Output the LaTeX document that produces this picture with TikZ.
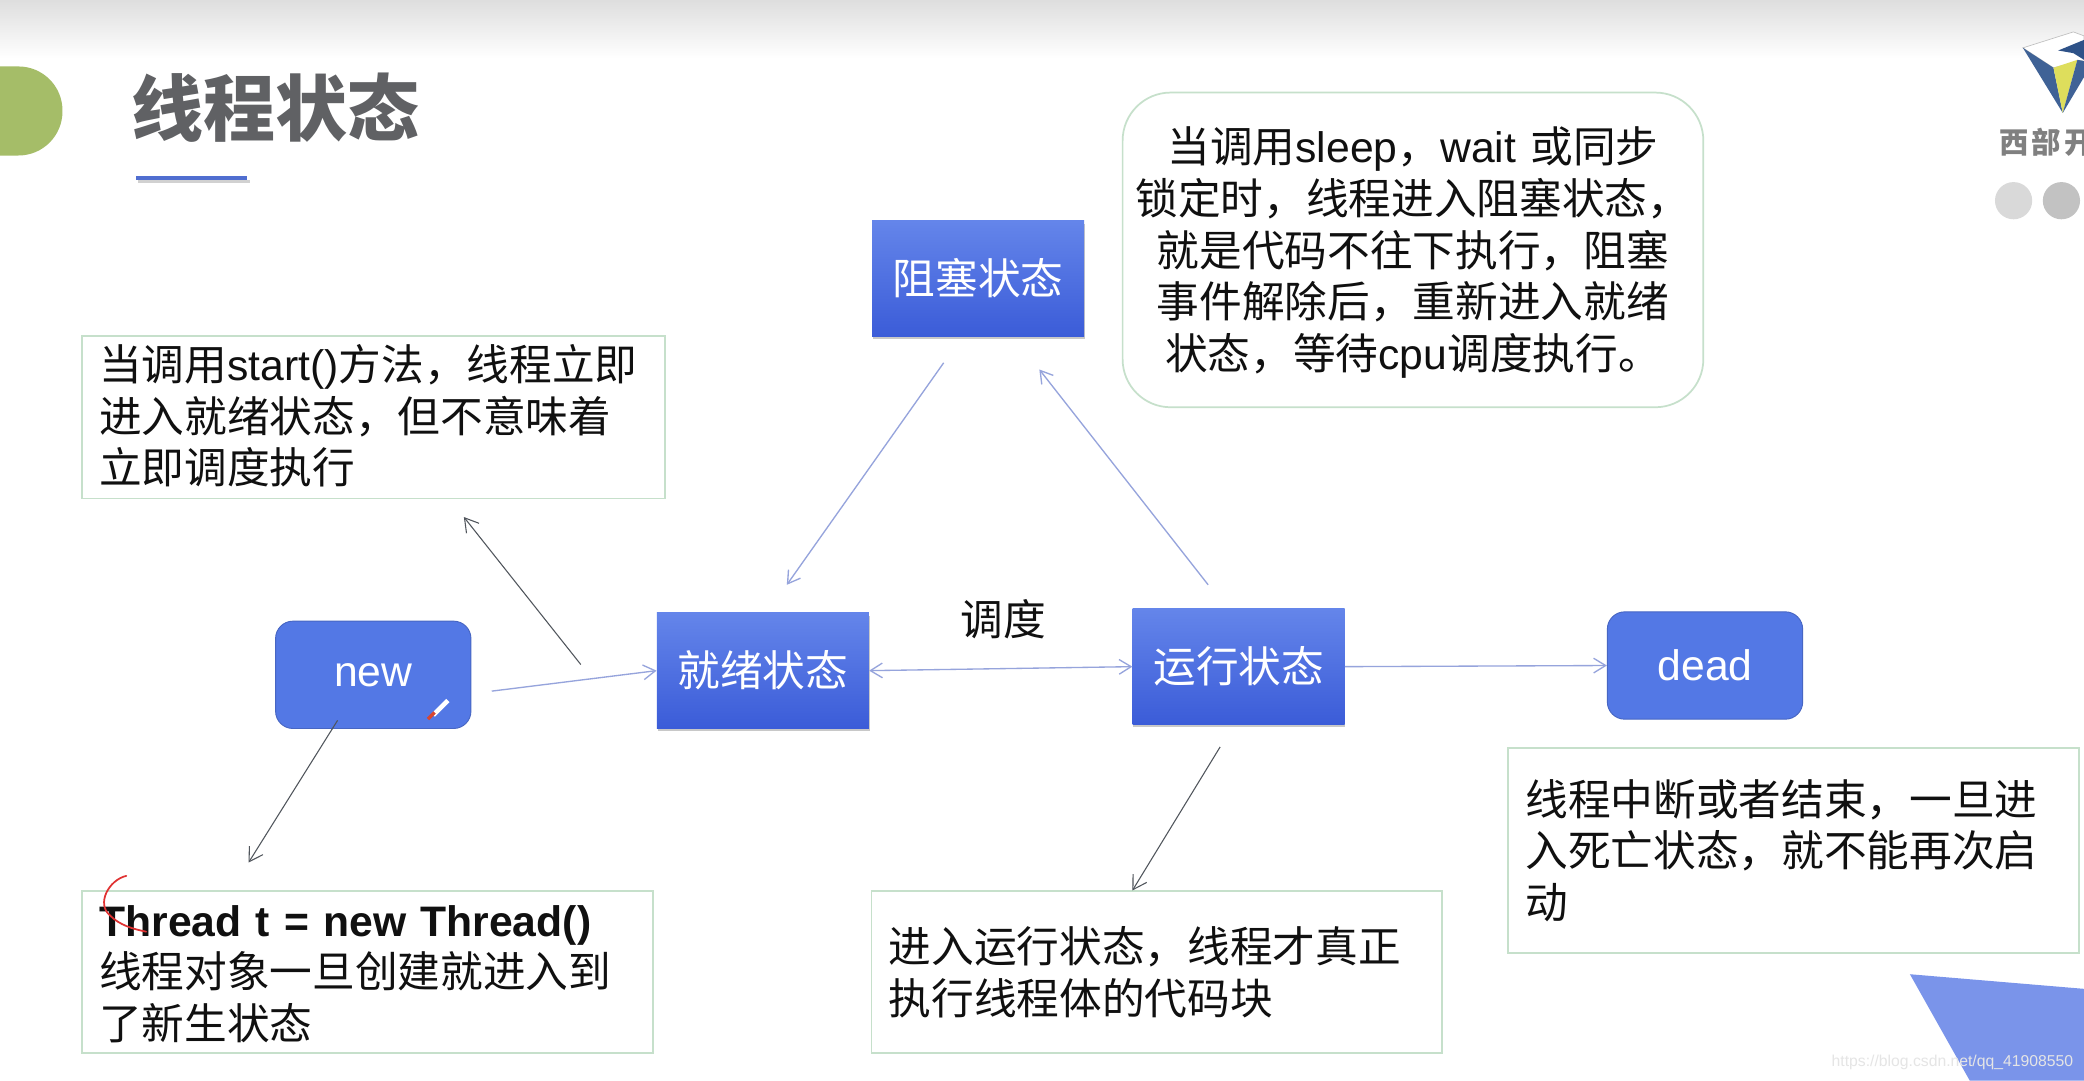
\documentclass[tikz,border=0pt]{standalone}
\usepackage{fontspec}
\setmainfont{Liberation Sans}
\newfontfamily\cjk{Noto Sans CJK SC}
\newcommand{\zh}[1]{{\cjk #1}}
\usetikzlibrary{arrows.meta,shadows}
\definecolor{boxblue}{HTML}{6485EA}
\definecolor{boxblueb}{HTML}{3B5CD8}
\definecolor{roundblue}{HTML}{5378E5}
\definecolor{paleedge}{HTML}{C6E0CB}
\definecolor{lightarrow}{HTML}{96A4DC}
\definecolor{darkarrow}{HTML}{50555C}
\definecolor{inktext}{HTML}{101010}
\definecolor{leaf}{HTML}{A5BD68}
\definecolor{titlegrey}{HTML}{606164}
\definecolor{rulerblue}{HTML}{506ED0}
\definecolor{logoblue}{HTML}{3F6296}
\definecolor{logodeep}{HTML}{2E5288}
\definecolor{logoyellow}{HTML}{DEDE5C}
\definecolor{cornerblue}{HTML}{7A94EA}
\definecolor{inkred}{HTML}{E03232}
\definecolor{pentip}{HTML}{D74632}
\tikzset{
  x=0.99675pt, y=-0.99675pt,
  body/.style={font=\fontsize{32}{38.7}\selectfont, text=inktext},
  notebox/.style={body, draw=paleedge, line width=1.3pt, fill=white, anchor=north west, align=left, inner xsep=13pt, inner ysep=0pt},
  statebox/.style={anchor=north west, minimum width=159pt, minimum height=86.5pt, inner sep=0pt, top color=boxblue, bottom color=boxblueb, text=white, font=\fontsize{32}{38}\selectfont, drop shadow={shadow xshift=0.5pt, shadow yshift=-2pt, opacity=0.3, fill=black!70}},
  roundstate/.style={anchor=north west, minimum width=146.5pt, minimum height=80.5pt, inner sep=0pt, rounded corners=13pt, fill=roundblue, draw=roundblue!85!black, line width=0.7pt, text=white, font=\fontsize{32}{38}\selectfont},
  bluelink/.style={draw=lightarrow, line width=1pt, -{Straight Barb[length=9pt,width=11pt]}},
  bluelinkboth/.style={draw=lightarrow, line width=1pt, {Straight Barb[length=9pt,width=11pt]}-{Straight Barb[length=9pt,width=11pt]}},
  darklink/.style={draw=darkarrow, line width=0.8pt, -{Straight Barb[length=10pt,width=12pt]}},
}
\begin{document}
\begin{tikzpicture}
\clip (0,0) rectangle (1568,812.6);
\fill[white] (0,0) rectangle (1568,812.6);
\shade[top color=black!13, bottom color=white] (0,0) rectangle (1568,44);

% header decoration
\fill[rounded corners=33pt, fill=leaf] (-50,50) rectangle (47,117);
\node[anchor=center, text=titlegrey, font=\fontsize{54}{54}\selectfont\cjk\bfseries] (title) at (207,81) {线程状态};
\fill[black!18] (104,135.5) rectangle (188,138);
\fill[rulerblue] (102,132.5) rectangle (186,135.5);

% logo
\fill[white, draw=black!25, line width=0.5pt] (1522,36) -- (1560,24) -- (1568,27) -- (1568,45) -- (1545,51) -- cycle;
\fill[logoblue] (1522,36) -- (1545,51) -- (1552,85) -- cycle;
\fill[logoyellow] (1545,51) -- (1563,45) -- (1552,85) -- cycle;
\fill[logoblue] (1563,45) -- (1568,46) -- (1568,58) -- (1552,85) -- cycle;
\fill[logodeep] (1548.6,38) -- (1568,30) -- (1568,45) -- (1560,40) -- cycle;
\node[anchor=west, inner sep=0pt, text=black!50, font=\fontsize{22}{22}\selectfont\cjk\bfseries] (brand) at (1504,107) {西\hspace{2.3pt}部\hspace{2.3pt}开};
\fill[black!15] (1515,151) circle (14);
\fill[black!24] (1551,151) circle (14);
\fill[cornerblue] (1437,733) -- (1568,744) -- (1568,813) -- (1482,813) -- cycle;

% state nodes
\node[statebox] (block) at (656,166) {\zh{阻塞状态}};
\node[statebox] (ready) at (494,461) {\zh{就绪状态}};
\node[statebox] (run) at (852,458) {\zh{运行状态}};
\node[roundstate] (new) at (207,467) {new};
\node[roundstate] (dead) at (1209,460) {dead};

% note boxes
\node[notebox, text width=411pt, minimum height=122pt] (startnote) at (61,252)
  {\zh{当调用}start()\zh{方法，线程立即}\\\zh{进入就绪状态，但不意味着}\\\zh{立即调度执行}\par\vspace*{2pt}};
\node[notebox, text width=402pt, minimum height=121pt] (threadnote) at (61,670)
  {\textbf{Thread t = new Thread()}\\\zh{线程对象一旦创建就进入到}\\\zh{了新生状态}\par\vspace*{-3pt}};
\node[notebox, text width=402pt, minimum height=121pt] (runnote) at (655,670)
  {\zh{进入运行状态，线程才真正}\\\zh{执行线程体的代码块}};
\node[notebox, text width=402pt, minimum height=154pt] (deadnote) at (1134,562)
  {\zh{线程中断或者结束，一旦进}\\\zh{入死亡状态，就不能再次启}\\\zh{动}};
\node[notebox, align=center, inner xsep=0pt, rounded corners=36pt, text width=435.5pt, minimum height=236pt] (blocknote) at (844,69)
  {\zh{当调用}sleep\zh{，}wait \zh{或同步}\\\zh{锁定时，线程进入阻塞状态，}\\\zh{就是代码不往下执行，阻塞}\\\zh{事件解除后，重新进入就绪}\\\zh{状态，等待}cpu\zh{调度执行。}\par\vspace*{-4pt}};
\node[body, inner sep=0pt] (sched) at (755,466) {\zh{调度}};

% free ends of connectors
\coordinate (newout) at (370,520);
\coordinate (notefrom) at (437,500);
\coordinate (noteto) at (349,389);
\coordinate (newdown) at (254,542);
\coordinate (threadto) at (187,649);
\coordinate (runfrom) at (918,562);
\coordinate (runto) at (852,670);
\coordinate (runup) at (909,440);
\coordinate (blockin) at (782,278);
\coordinate (blockout) at (710,273);
\coordinate (readyin) at (592,440);

% connectors
\draw[bluelink] (newout) -- (ready.west);
\draw[bluelinkboth] (ready.east) -- (run.west);
\draw[bluelink] (run.east) -- (dead.west);
\draw[bluelink] (runup) -- (blockin);
\draw[bluelink] (blockout) -- (readyin);
\draw[darklink] (notefrom) -- (noteto);
\draw[darklink] (newdown) -- (threadto);
\draw[darklink] (runfrom) -- (runto);

% hand annotation and pen cursor
\draw[inkred, line width=1.3pt, line cap=round] (95,659) .. controls (82,662) and (72,680) .. (83,689) .. controls (90,696) and (100,699) .. (110,701);
\draw[white, line width=3.5pt] (326,538) -- (337,527);
\draw[pentip, line width=2.5pt] (322,541) -- (327,536);

% watermark
\node[anchor=east, inner sep=0pt, text=black!10, font=\fontsize{11.8}{14}\selectfont] (mark) at (1560,799) {https://blog.csdn.net/qq\_41908550};
\end{tikzpicture}
\end{document}
